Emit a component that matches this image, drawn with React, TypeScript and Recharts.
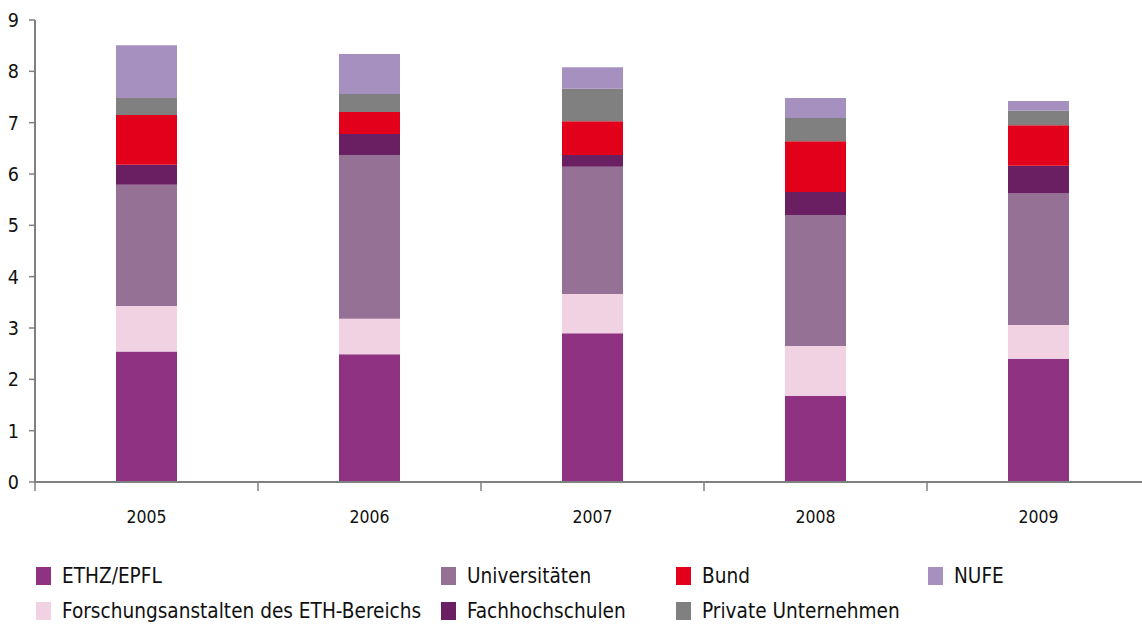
import React from 'react';
import { BarChart, Bar, XAxis, YAxis } from 'recharts';

const years = ['2005', '2006', '2007', '2008', '2009'];
const ethz = [2.54, 2.49, 2.9, 1.68, 2.4];
const forschung = [0.89, 0.69, 0.76, 0.97, 0.66];
const unis = [2.36, 3.19, 2.48, 2.55, 2.57];
const fachhoch = [0.39, 0.41, 0.23, 0.45, 0.53];
const bund = [0.97, 0.43, 0.66, 0.99, 0.79];
const privat = [0.33, 0.35, 0.63, 0.45, 0.28];
const nufe = [1.03, 0.78, 0.42, 0.39, 0.19];
const yTicks = [0, 1, 2, 3, 4, 5, 6, 7, 8, 9];

const series = [
  { key: 'ethz', name: 'ETHZ/EPFL', color: '#8F3282', values: ethz },
  { key: 'forschung', name: 'Forschungsanstalten des ETH-Bereichs', color: '#F0D2E2', values: forschung },
  { key: 'unis', name: 'Universitäten', color: '#967196', values: unis },
  { key: 'fachhoch', name: 'Fachhochschulen', color: '#6A1F62', values: fachhoch },
  { key: 'bund', name: 'Bund', color: '#E2001A', values: bund },
  { key: 'privat', name: 'Private Unternehmen', color: '#808080', values: privat },
  { key: 'nufe', name: 'NUFE', color: '#A690BF', values: nufe },
];

const data = years.map((year, i) => {
  const row: Record<string, string | number> = { year };
  series.forEach((s) => (row[s.key] = s.values[i]));
  return row;
});

// legend slots: [series key, column, row]
const legendLayout: [string, number, number][] = [
  ['ethz', 0, 0],
  ['unis', 1, 0],
  ['bund', 2, 0],
  ['nufe', 3, 0],
  ['forschung', 0, 1],
  ['fachhoch', 1, 1],
  ['privat', 2, 1],
];
const legendCols = [36, 441, 676, 928];
const legendRows = [566, 601];

const FONT = '"Liberation Sans Narrow", "DejaVu Sans Condensed", "Roboto", sans-serif';
const CHART_W = 1150;
const Y_W = 35;
const BAND = (CHART_W - Y_W) / years.length;

const YearTick = (props: any) => {
  const { x, y, payload } = props;
  return (
    <g>
      <line x1={x - BAND / 2} y1={y} x2={x - BAND / 2} y2={y + 9} stroke="#808080" strokeWidth={1.5} />
      <text x={x} y={y + 41} textAnchor="middle" fontSize={17.5} fill="#111" fontFamily={FONT}>
        {payload.value}
      </text>
    </g>
  );
};

export default function App() {
  return (
    <div style={{ position: 'absolute', left: 0, top: 0, width: 1142, height: 626, overflow: 'hidden', background: '#fff' }}>
      <BarChart width={CHART_W} height={626} data={data} margin={{ top: 20, right: 0, left: 0, bottom: 0 }} barSize={61}>
        <XAxis
          dataKey="year"
          height={144}
          axisLine={{ stroke: '#808080', strokeWidth: 2 }}
          tickLine={false}
          tickSize={0}
          tickMargin={0}
          tick={<YearTick />}
          interval={0}
        />
        <YAxis
          width={Y_W}
          domain={[0, 9]}
          ticks={yTicks}
          interval={0}
          axisLine={{ stroke: '#808080', strokeWidth: 2 }}
          tickLine={{ stroke: '#808080', strokeWidth: 1.5 }}
          tickSize={6}
          tickMargin={10}
          tick={{ fontSize: 19.5, fill: '#111', fontFamily: FONT }}
        />
        {series.map((s) => (
          <Bar key={s.key} dataKey={s.key} name={s.name} stackId="a" fill={s.color} isAnimationActive={false} />
        ))}
      </BarChart>
      {legendLayout.map(([key, col, row]) => {
        const s = series.find((d) => d.key === key)!;
        return (
          <div
            key={key}
            style={{
              position: 'absolute',
              left: legendCols[col],
              top: legendRows[row],
              display: 'flex',
              alignItems: 'center',
              fontFamily: FONT,
              fontSize: 20.6,
              color: '#111',
              whiteSpace: 'nowrap',
              lineHeight: '20px',
            }}
          >
            <span style={{ display: 'inline-block', width: 15, height: 18, background: s.color, marginRight: 11 }} />
            {s.name}
          </div>
        );
      })}
    </div>
  );
}
